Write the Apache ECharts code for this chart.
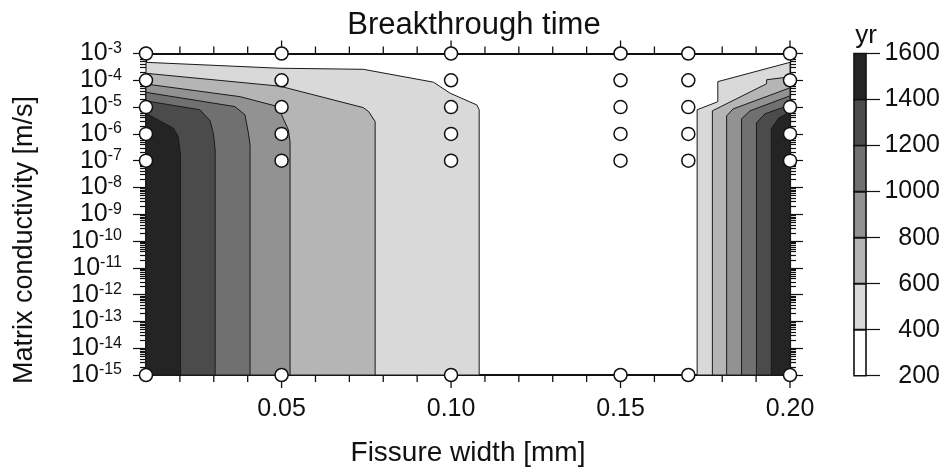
<!DOCTYPE html>
<html><head><meta charset="utf-8">
<script src="https://cdn.jsdelivr.net/npm/echarts@6/dist/echarts.min.js"></script>
<style>html,body{margin:0;padding:0;background:#fff}#c{width:944px;height:472px}</style>
</head><body><div id="c"></div>
<script>
// ---------- data ----------
const sampleWidths = [0.01, 0.05, 0.10, 0.15, 0.17, 0.20];   // mm
const sampleLogK = [-3, -4, -5, -6, -7, -15];                 // log10 m/s
const xTickLabels = [0.05, 0.10, 0.15, 0.20];
const xMinorTicks = [0.01,0.02,0.03,0.04,0.06,0.07,0.08,0.09,0.11,0.12,0.13,0.14,0.16,0.17,0.18,0.19];
const yExponents = [-15,-14,-13,-12,-11,-10,-9,-8,-7,-6,-5,-4,-3];
const colorbarLevels = [200, 400, 600, 800, 1000, 1200, 1400, 1600]; // yr
const contourLevels = [400, 600, 800, 1000, 1200, 1400];

// contour regions (value above level): [fissure width, log10 K]
const left400 = [[0.01,-3.33],[0.0495,-3.55],[0.0741,-3.59],[0.0948,-4.07],[0.0997,-4.48],[0.1076,-4.92],[0.1083,-5.10],[0.1083,-15],[0.01,-15]];
const left600 = [[0.01,-3.74],[0.0495,-4.22],[0.0741,-5.02],[0.0757,-5.17],[0.0776,-5.54],[0.0776,-15],[0.01,-15]];
const left800 = [[0.01,-4.14],[0.0377,-4.61],[0.0495,-5.00],[0.0500,-5.29],[0.0520,-5.85],[0.0525,-6.3],[0.0525,-15],[0.01,-15]];
const left1000 = [[0.01,-4.45],[0.0362,-4.98],[0.0392,-5.29],[0.0402,-5.97],[0.0407,-6.4],[0.0407,-15],[0.01,-15]];
const left1200 = [[0.01,-4.77],[0.0259,-5.10],[0.0289,-5.51],[0.0299,-6.0],[0.0304,-6.6],[0.0304,-15],[0.01,-15]];
const left1400 = [[0.01,-5.23],[0.0181,-5.79],[0.0195,-6.10],[0.0202,-6.8],[0.0202,-15],[0.01,-15]];
const right400 = [[0.20,-3.33],[0.1787,-4.05],[0.1787,-4.80],[0.1726,-5.10],[0.1726,-15],[0.20,-15]];
const right600 = [[0.20,-3.87],[0.1931,-3.98],[0.1931,-4.13],[0.1771,-5.14],[0.1771,-15],[0.20,-15]];
const right800 = [[0.20,-4.28],[0.1832,-5.07],[0.1813,-5.33],[0.1813,-15],[0.20,-15]];
const right1000 = [[0.20,-4.58],[0.1882,-5.14],[0.1857,-5.44],[0.1857,-15],[0.20,-15]];
const right1200 = [[0.20,-4.92],[0.1926,-5.25],[0.1901,-5.59],[0.1901,-15],[0.20,-15]];
const right1400 = [[0.20,-5.18],[0.1967,-5.40],[0.1945,-5.81],[0.1945,-15],[0.20,-15]];

// ---------- styles ----------
const bandColors = ['#ffffff','#d9d9d9','#b5b5b5','#929292','#707070','#4b4b4b','#242424'];
const FONT = "'Liberation Sans', Arial, Helvetica, sans-serif";
const INK = '#111';
const MAJOR_LEN = 13, MINOR_LEN = 7, TICK_W = 1.3;

const leftPolys = [left400, left600, left800, left1000, left1200, left1400];
const rightPolys = [right400, right600, right800, right1000, right1200, right1400];
const polys = [];
contourLevels.forEach((lv, i) => {
  polys.push({ level: lv, pts: leftPolys[i] });
  polys.push({ level: lv, pts: rightPolys[i] });
});
function colorForLevel(lv) { return bandColors[colorbarLevels.indexOf(lv)]; }

const circleData = [];
sampleWidths.forEach(w => sampleLogK.forEach(k => circleData.push([w, k])));

const logMinor = [];
for (let n = -15; n < -3; n++) for (let m = 2; m <= 9; m++) logMinor.push(n + Math.log10(m));

const bands = [];
for (let i = 0; i < colorbarLevels.length - 1; i++) bands.push([0, colorbarLevels[i], colorbarLevels[i + 1], i]);

const yTop = yExponents[yExponents.length - 1], yBottom = yExponents[0];
function tickSeries(values, yEdge, len, dir) {
  return {
    type: 'scatter', xAxisIndex: 0, yAxisIndex: 0, z: 20, clip: false, silent: true,
    symbol: 'rect', symbolSize: [TICK_W, len], symbolOffset: [0, dir * len / 2],
    data: values.map(v => [v, yEdge]),
    itemStyle: { color: INK, opacity: 1 }
  };
}

const tickLine = { color: INK, width: 1.2 };
function yAx(pos, major) {
  const o = {
    type: 'value', gridIndex: 0, position: pos, min: -15, max: -3, interval: 1,
    axisLine: { show: major, onZero: false, lineStyle: { color: INK, width: 1.2 } },
    axisTick: { show: true, inside: false, length: major ? 13 : 6, lineStyle: tickLine },
    axisLabel: { show: major && pos === 'left', margin: 24,
      formatter: v => '{b|10}{s|' + v + '}',
      rich: {
        b: { fontSize: 25, fontFamily: FONT, color: INK, lineHeight: 26 },
        s: { fontSize: 16, fontFamily: FONT, color: INK, verticalAlign: 'top', lineHeight: 10 }
      } },
    splitLine: { show: false }
  };
  if (!major) o.axisTick.customValues = logMinor;
  return o;
}

const option = {
  animation: false,
  backgroundColor: '#fff',
  title: { text: 'Breakthrough time', left: 469, top: 5, textAlign: 'center',
    textStyle: { fontSize: 31, fontWeight: 'normal', fontFamily: FONT, color: INK } },
  grid: [{ left: 146, right: 154, top: 53.5, bottom: 96.3 }, { left: 854, right: 78, top: 53.5, bottom: 96.3 }],
  xAxis: [
    { type: 'value', gridIndex: 0, position: 'bottom', min: 0.01, max: 0.20,
      axisLine: { show: true, onZero: false, lineStyle: { color: INK, width: 2 } },
      axisTick: { show: false },
      axisLabel: { show: true, customValues: xTickLabels, formatter: v => v.toFixed(2),
        fontSize: 25, fontFamily: FONT, color: INK, margin: 22 },
      splitLine: { show: false },
      name: 'Fissure width [mm]', nameLocation: 'middle', nameGap: 64,
      nameTextStyle: { fontSize: 28, fontFamily: FONT, color: INK } },
    { type: 'value', gridIndex: 0, position: 'top', min: 0.01, max: 0.20,
      axisLine: { show: true, onZero: false, lineStyle: { color: INK, width: 2 } },
      axisTick: { show: false }, axisLabel: { show: false }, splitLine: { show: false } },
    { type: 'category', gridIndex: 1, data: ['c'], show: false }
  ],
  yAxis: [
    yAx('left', true), yAx('left', false), yAx('right', true), yAx('right', false),
    { type: 'value', gridIndex: 1, position: 'right', min: 200, max: 1600, interval: 200,
      axisLine: { show: false, onZero: false },
      axisTick: { show: true, length: 14, lineStyle: { color: INK, width: 1.2 } },
      axisLabel: { show: true, align: 'right', margin: 74, fontSize: 25, fontFamily: FONT, color: INK,
        formatter: v => String(v) },
      splitLine: { show: false },
      name: 'yr', nameLocation: 'end', nameGap: 5,
      nameTextStyle: { fontSize: 26, fontFamily: FONT, color: INK, align: 'center' } }
  ],
  graphic: [
    { type: 'text', x: 25, y: 240, rotation: Math.PI / 2, style: { text: 'Matrix conductivity [m/s]',
      fontSize: 27, fontFamily: FONT, fill: INK, align: 'center', verticalAlign: 'middle' } }
  ],
  series: [
    {
      type: 'custom', xAxisIndex: 0, yAxisIndex: 0, z: 1,
      data: polys.map((p, i) => [p.pts[0][0], p.pts[0][1], i]),
      renderItem: (params, api) => {
        const p = polys[params.dataIndex];
        return { type: 'polygon', shape: { points: p.pts.map(q => api.coord(q)) },
          style: { fill: colorForLevel(p.level), stroke: '#1a1a1a', lineWidth: 1 } };
      }
    },
    tickSeries(xTickLabels, yBottom, MAJOR_LEN, 1),
    tickSeries(xMinorTicks, yBottom, MINOR_LEN, 1),
    tickSeries(xTickLabels, yTop, MAJOR_LEN, -1),
    tickSeries(xMinorTicks, yTop, MINOR_LEN, -1),
    {
      type: 'scatter', xAxisIndex: 0, yAxisIndex: 0, z: 30, clip: false,
      symbol: 'circle', symbolSize: 13, data: circleData,
      itemStyle: { color: '#fff', borderColor: INK, borderWidth: 1.5, opacity: 1 }
    },
    {
      type: 'custom', xAxisIndex: 2, yAxisIndex: 4, z: 3,
      data: bands, encode: { x: 0, y: 1 },
      renderItem: (params, api) => {
        const lo = api.coord([0, api.value(1)]);
        const hi = api.coord([0, api.value(2)]);
        const w = api.size([1, 0])[0];
        return { type: 'rect', shape: { x: lo[0] - w / 2, y: hi[1], width: w, height: lo[1] - hi[1] },
          style: { fill: bandColors[api.value(3)], stroke: INK, lineWidth: 1.6 } };
      }
    }
  ]
};
echarts.init(document.getElementById('c'), null, { renderer: 'canvas' }).setOption(option);
</script></body></html>
